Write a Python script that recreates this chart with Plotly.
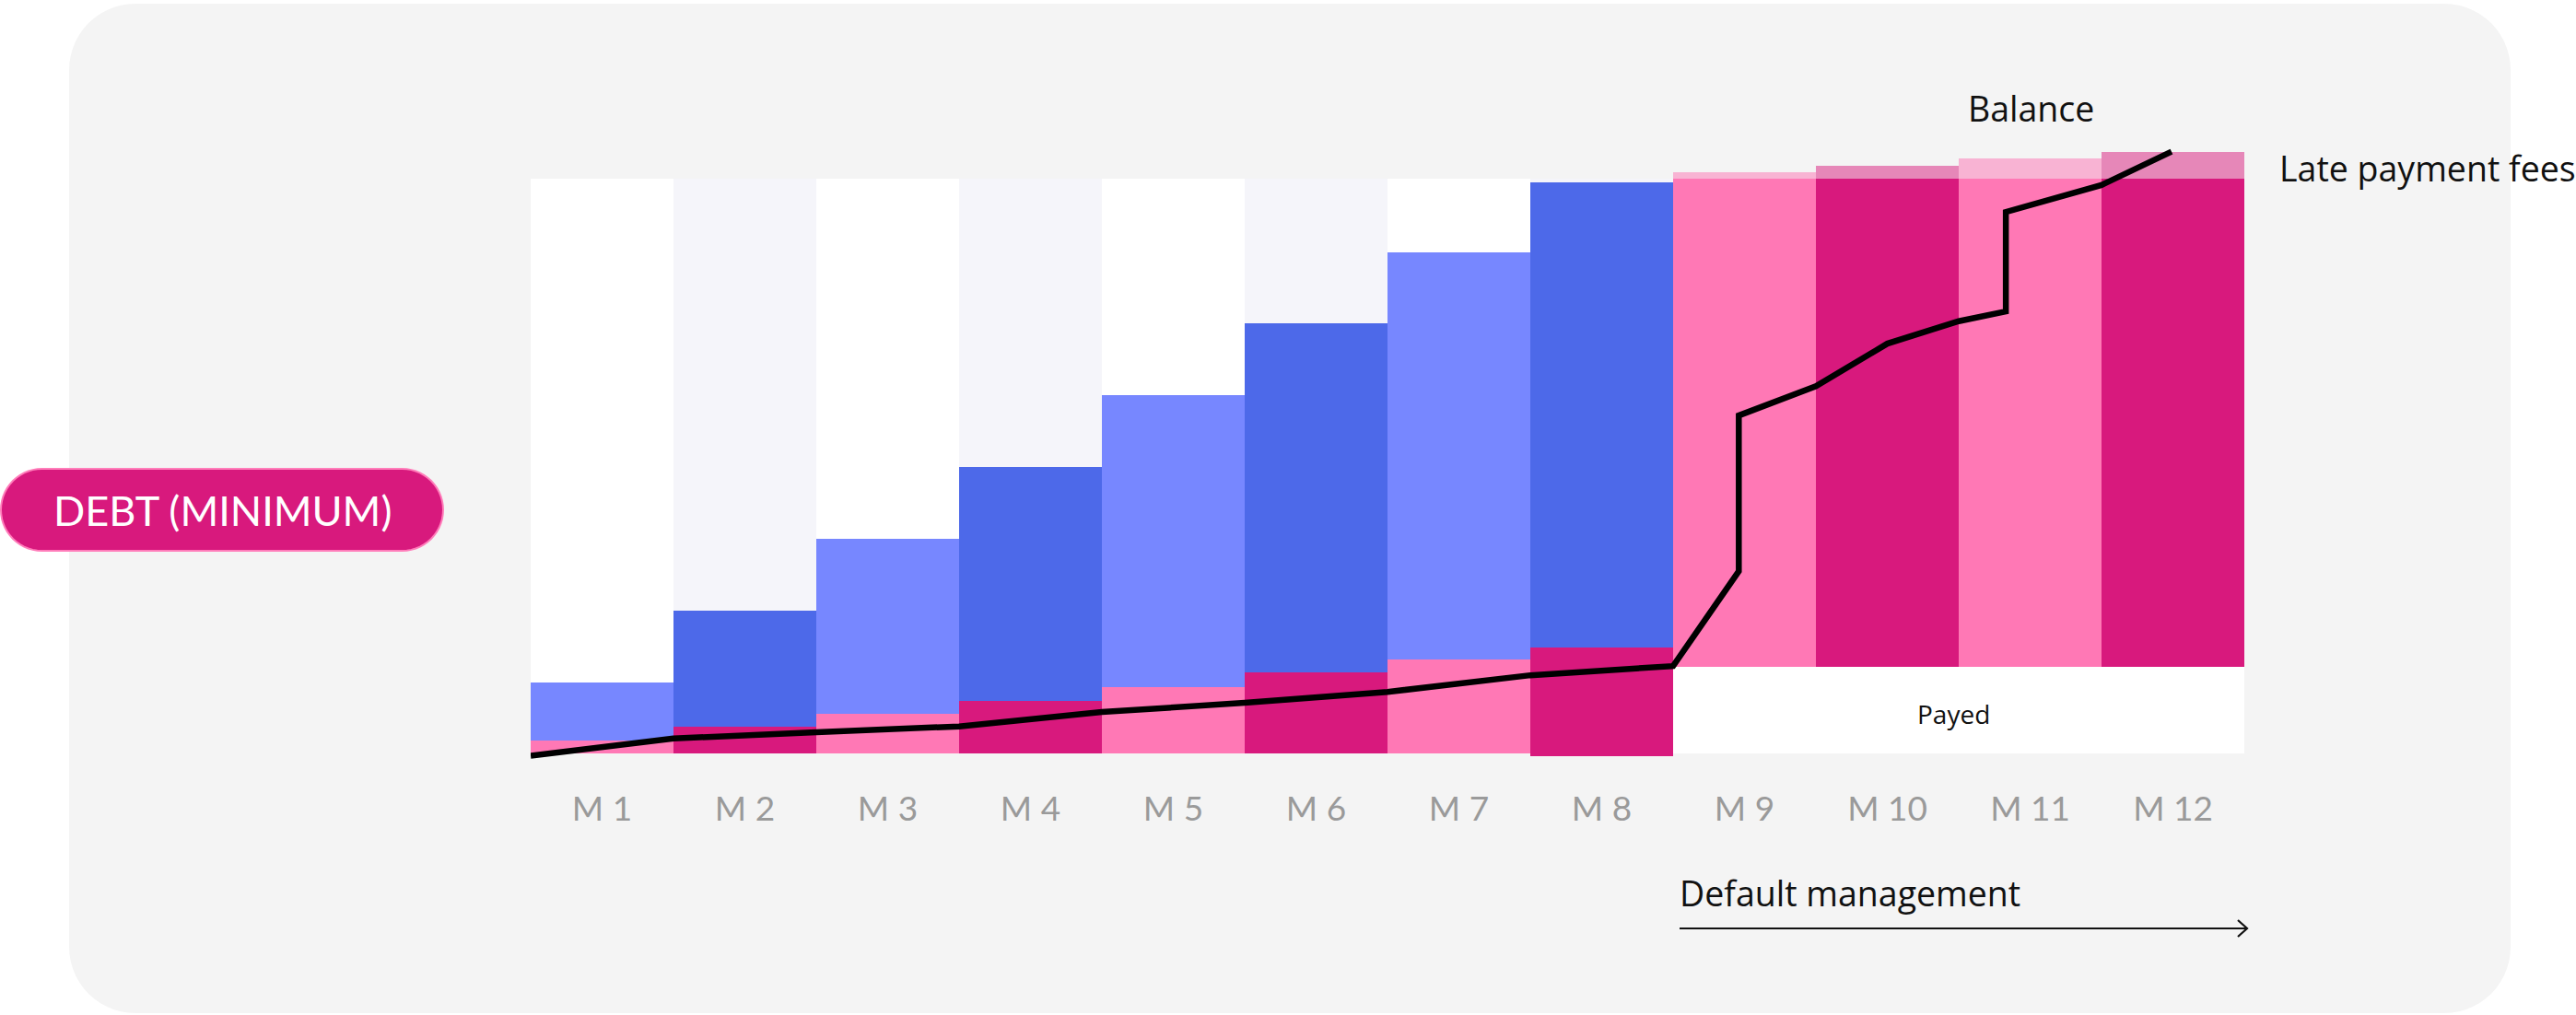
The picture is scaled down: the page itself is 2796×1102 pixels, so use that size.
import plotly.graph_objects as go
import math

# ---------------- data (percent of the monthly minimum-debt scale) ----------------
months = ["M 1", "M 2", "M 3", "M 4", "M 5", "M 6", "M 7", "M 8", "M 9", "M 10", "M 11", "M 12"]

# M1-M8: paid part (pink) and minimum debt top (blue)
paid_base = [0, 0, 0, 0, 0, 0, 0, -0.5]
paid_top = [2.2, 4.7, 6.9, 9.2, 11.6, 14.1, 16.4, 18.5]
debt_top = [12.4, 24.8, 37.3, 49.8, 62.3, 74.9, 87.2, 99.4]
column_full = [100, 100, 100, 100, 100, 100, 100, 100]

# M9-M12: default management
payed_top = [15.1, 15.1, 15.1, 15.1]
overdue_top = [100, 100, 100, 100]
fees_top = [101.1, 102.3, 103.6, 104.7]

# Balance line (x in month units, bar edges at k-0.5)
balance_x = [-0.5, 0.5, 1.5, 2.5, 3.5, 4.5, 5.5, 6.5, 7.5, 7.96, 7.96, 8.5, 9.0, 9.5, 9.83, 9.83, 10.5, 10.99]
balance_y = [-0.4, 2.6, 3.7, 4.7, 7.2, 8.8, 10.7, 13.6, 15.2, 31.7, 58.8, 63.9, 71.3, 75.2, 76.9, 94.2, 98.9, 104.7]

# ---------------- styling ----------------
W, H = 2796, 1102
L, R, T, B = 576, 2436, 100, 853
Y0_PX, Y100_PX = 818, 194
PPU = (Y0_PX - Y100_PX) / 100.0
YMAX = (Y0_PX - T) / PPU
YMIN = (Y0_PX - B) / PPU
FONT = "Lato"
FONT2 = "Open Sans"

LIGHT_BLUE, DARK_BLUE = "#7787FF", "#4D69E9"
PINK, MAGENTA = "#FF78B5", "#D8197D"
FEE_LIGHT, FEE_DARK = "#F8B3D3", "#E687B8"
COL_WHITE, COL_LAV = "#FFFFFF", "#F5F5FA"


def alt(i, a, b):
    return a if i % 2 == 0 else b


def pp(px, py):
    return ((px - L) / (R - L), (B - py) / (B - T))


def rounded_path(x0, y0, x1, y1, r, n=14):
    pts = []
    corners = [
        (x1 - r, y0 + r, -90, 0),
        (x1 - r, y1 - r, 0, 90),
        (x0 + r, y1 - r, 90, 180),
        (x0 + r, y0 + r, 180, 270),
    ]
    for cx, cy, a0, a1 in corners:
        for k in range(n + 1):
            a = math.radians(a0 + (a1 - a0) * k / n)
            pts.append(pp(cx + r * math.cos(a), cy + r * math.sin(a)))
    return "M " + " L ".join(f"{x:.5f},{y:.5f}" for x, y in pts) + " Z"


xa = list(range(8))
xb = list(range(8, 12))

fig = go.Figure()

fig.add_bar(x=xa, y=column_full, base=[0] * 8,
            marker=dict(color=[alt(i, COL_WHITE, COL_LAV) for i in xa], line=dict(width=0)),
            width=1, hoverinfo="skip")
fig.add_bar(x=xa, y=[t - b for t, b in zip(paid_top, paid_base)], base=paid_base,
            marker=dict(color=[alt(i, PINK, MAGENTA) for i in xa], line=dict(width=0)),
            width=1, name="Paid")
fig.add_bar(x=xa, y=[d - p for d, p in zip(debt_top, paid_top)], base=paid_top,
            marker=dict(color=[alt(i, LIGHT_BLUE, DARK_BLUE) for i in xa], line=dict(width=0)),
            width=1, name="Minimum debt")
fig.add_bar(x=xb, y=payed_top, base=[0] * 4,
            marker=dict(color="#FFFFFF", line=dict(width=0)), width=1, name="Payed")
fig.add_bar(x=xb, y=[o - p for o, p in zip(overdue_top, payed_top)], base=payed_top,
            marker=dict(color=[alt(i, PINK, MAGENTA) for i in xb], line=dict(width=0)),
            width=1, name="Overdue")
fig.add_bar(x=xb, y=[f - o for f, o in zip(fees_top, overdue_top)], base=overdue_top,
            marker=dict(color=[alt(i, FEE_LIGHT, FEE_DARK) for i in xb], line=dict(width=0)),
            width=1, name="Late payment fees")
fig.add_scatter(x=balance_x, y=balance_y, mode="lines",
                line=dict(color="#000000", width=6.5), name="Balance")

shapes = [
    dict(type="path", xref="paper", yref="paper", layer="below",
         path=rounded_path(75, 4, 2725, 1100, 72),
         fillcolor="#F4F4F4", line=dict(width=0)),
    dict(type="path", xref="paper", yref="paper", layer="above",
         path=rounded_path(1, 509, 481, 598, 44.5),
         fillcolor=MAGENTA, line=dict(color="#FF7DBA", width=2)),
]
ax0, ay0 = pp(1823, 1008)
ax1, _ = pp(2439, 1008)
shapes.append(dict(type="line", xref="paper", yref="paper", x0=ax0, y0=ay0, x1=ax1, y1=ay0,
                   line=dict(color="#111111", width=2.2)))
c1 = pp(2429, 999)
c2 = pp(2439, 1008)
c3 = pp(2429, 1017)
shapes.append(dict(type="path", xref="paper", yref="paper",
                   path=f"M {c1[0]},{c1[1]} L {c2[0]},{c2[1]} L {c3[0]},{c3[1]}",
                   line=dict(color="#111111", width=2.2)))


def ann(text, px, py, size, color="#111111", xanchor="center", family=FONT2):
    x, y = pp(px, py)
    return dict(text=text, x=x, y=y, xref="paper", yref="paper", showarrow=False,
                xanchor=xanchor, yanchor="middle",
                font=dict(family=family, size=size, color=color))


annotations = [
    ann("DEBT (MINIMUM)", 241, 554, 45, "#FFFFFF", family=FONT),
    ann("Balance", 2204, 118, 37.5),
    ann("Late payment fees", 2472, 182, 37.5, xanchor="left"),
    ann("Payed", 2120, 775, 28),
    ann("Default management", 1821, 969, 37.5, xanchor="left"),
]

fig.update_layout(
    width=W, height=H,
    margin=dict(l=L, r=W - R, t=T, b=H - B, pad=0),
    paper_bgcolor="#FFFFFF", plot_bgcolor="rgba(0,0,0,0)",
    barmode="overlay", bargap=0, showlegend=False,
    shapes=shapes, annotations=annotations,
    xaxis=dict(range=[-0.5, 11.5], tickmode="array", tickvals=list(range(12)), ticktext=months,
               showgrid=False, zeroline=False, showline=False, ticks="",
               tickfont=dict(family=FONT, size=37, color="#9A9A9A")),
    yaxis=dict(range=[YMIN, YMAX], showgrid=False, zeroline=False, showline=False,
               showticklabels=False, ticks=""),
)

fig.write_html("out.html", config={"displayModeBar": False},
               post_script="document.body.style.margin='0';document.body.style.overflow='hidden';")
